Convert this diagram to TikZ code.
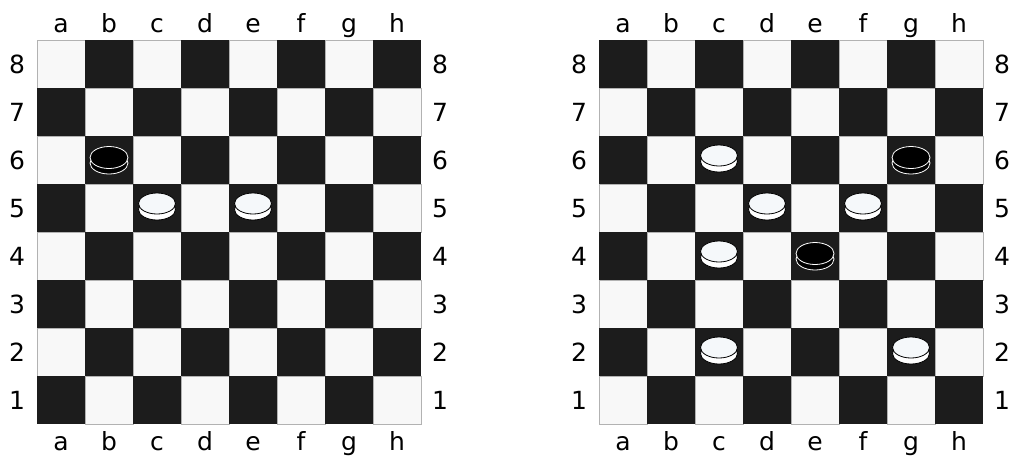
\documentclass[tikz,border=0pt]{standalone}
\usepackage{fontspec}
\setmainfont{DejaVu Sans}
\definecolor{darksq}{HTML}{1C1C1C}
\definecolor{lightsq}{HTML}{F8F8F8}
\definecolor{wpiece}{HTML}{F5F8FA}
\begin{document}
\begin{tikzpicture}[x=1pt,y=-1pt,
  lab/.style={font=\fontsize{25}{30}\selectfont, inner sep=0pt, anchor=base},
  darkcell/.style={fill=darksq},
  lightcell/.style={fill=lightsq, draw=gray!60, line width=0.6pt},
  wman/.pic={
    \draw[fill=white, draw=black, line width=0.8pt] (0,1.5) ellipse [x radius=18.5pt, y radius=10.5pt];
    \draw[fill=wpiece, draw=black, line width=0.8pt] (0,-4.5) ellipse [x radius=18.5pt, y radius=10.5pt];
  },
  bman/.pic={
    \draw[fill=black, draw=white, line width=0.8pt] (0,3) ellipse [x radius=19pt, y radius=11pt];
    \draw[fill=black, draw=white, line width=0.8pt] (0,-2.5) ellipse [x radius=19pt, y radius=11pt];
  }
]
\useasboundingbox (0,0) rectangle (1009,459);
% boards
\foreach \ox/\sh/\bn in {37/0/L, 599/1/R}{
  \foreach \c in {0,...,7}{
    \foreach \r in {0,...,7}{
      \pgfmathtruncatemacro\pp{mod(\c+\r+\sh,2)}
      \ifnum\pp=0
        \path[lightcell] (\ox+48*\c,40+48*\r) rectangle ++(48,48);
      \else
        \path[darkcell] (\ox+48*\c,40+48*\r) rectangle ++(48,48);
      \fi
    }
  }
  \foreach \l [count=\i from 0] in {a,b,c,d,e,f,g,h}{
    \node[lab] (\bn top\l) at (\ox+24+48*\i,32) {\l};
    \node[lab] (\bn bot\l) at (\ox+24+48*\i,450) {\l};
  }
  \foreach \n [count=\i from 0] in {8,7,6,5,4,3,2,1}{
    \node[lab] (\bn left\n) at (\ox-20,73+48*\i) {\n};
    \node[lab] (\bn right\n) at (\ox+403,73+48*\i) {\n};
  }
}
% left board pieces
\pic at (109,160) {bman};
\pic at (157,208) {wman};
\pic at (253,208) {wman};
% right board pieces
\pic at (719,160) {wman};
\pic at (911,160) {bman};
\pic at (767,208) {wman};
\pic at (863,208) {wman};
\pic at (719,256) {wman};
\pic at (815,256) {bman};
\pic at (719,352) {wman};
\pic at (911,352) {wman};
\end{tikzpicture}
\end{document}
